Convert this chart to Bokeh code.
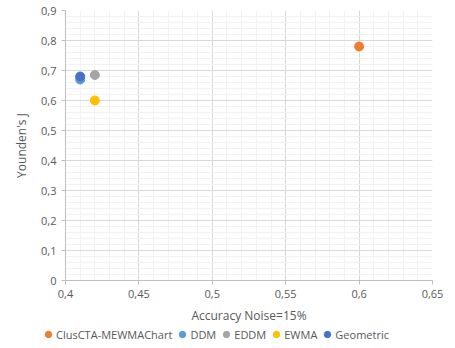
from bokeh.plotting import figure
from bokeh.layouts import column
from bokeh.models import FixedTicker, Legend, LegendItem, ColumnDataSource
from bokeh.embed import file_html
from bokeh.resources import INLINE

names = ["ClusCTA-MEWMAChart", "DDM", "EDDM", "EWMA", "Geometric"]
accuracy = [0.60, 0.41, 0.42, 0.42, 0.41]
youden = [0.78, 0.67, 0.685, 0.60, 0.68]
colors = ["#ED7D31", "#5B9BD5", "#A5A5A5", "#FFC000", "#4472C4"]

x_ticks = [0.4, 0.45, 0.5, 0.55, 0.6, 0.65]
y_ticks = [0, 0.1, 0.2, 0.3, 0.4, 0.5, 0.6, 0.7, 0.8, 0.9]
x_minor = [round(0.4 + 0.01 * i, 2) for i in range(26)]
y_minor = [round(0.02 * i, 2) for i in range(46)]

def fmt(v):
    s = ("%g" % v)
    return s.replace(".", ",")

p = figure(width=455, height=326, output_backend="svg", toolbar_location=None,
           x_range=(0.4, 0.65), y_range=(0, 0.9),
           min_border_left=65, min_border_right=23, min_border_top=10, min_border_bottom=45)
p.outline_line_color = None
p.background_fill_color = "white"

font = "Open Sans"
for ax in (p.xaxis[0], p.yaxis[0]):
    ax.axis_line_color = "#BFBFBF"
    ax.major_tick_line_color = "#BFBFBF"
    ax.minor_tick_line_color = None
    ax.major_tick_out = 4
    ax.major_tick_in = 0
    ax.major_label_text_font = font
    ax.major_label_text_font_size = "11px"
    ax.major_label_text_color = "#595959"
    ax.axis_label_text_font = font
    ax.axis_label_text_font_size = "12px"
    ax.axis_label_text_color = "#595959"
    ax.axis_label_text_font_style = "normal"

p.xaxis.ticker = FixedTicker(ticks=x_ticks, minor_ticks=x_minor)
p.yaxis.ticker = FixedTicker(ticks=y_ticks, minor_ticks=y_minor)
p.xaxis.major_label_overrides = {t: fmt(t) for t in x_ticks}
p.yaxis.major_label_overrides = {t: fmt(t) for t in y_ticks}
p.xaxis.axis_label = "Accuracy Noise=15%"
p.yaxis.axis_label = "Younden's J"
p.xaxis.axis_label_standoff = 6
p.yaxis.axis_label_standoff = 8

p.xgrid.grid_line_color = "#D9D9D9"
p.ygrid.grid_line_color = "#D9D9D9"
p.xgrid.minor_grid_line_color = "#F2F2F2"
p.ygrid.minor_grid_line_color = "#F2F2F2"

for n, xv, yv, c in zip(names, accuracy, youden, colors):
    src = ColumnDataSource(dict(x=[xv], y=[yv]))
    p.scatter("x", "y", source=src, size=9, fill_color=c, line_color=c)

# legend strip below the chart (its renderers sit outside the visible range)
lf = figure(frame_width=455, frame_height=22, output_backend="svg", toolbar_location=None,
            x_range=(0, 1), y_range=(0, 1),
            min_border_left=0, min_border_right=0, min_border_top=0, min_border_bottom=0,
            x_axis_location=None, y_axis_location=None)
lf.grid.visible = False
lf.outline_line_color = None
items = []
for n, c in zip(names, colors):
    r = lf.scatter(x=[-10], y=[-10], size=9, fill_color=c, line_color=c)
    items.append(LegendItem(label=n, renderers=[r]))
legend = Legend(items=items, orientation="horizontal", location=(40, 6),
                label_text_font=font, label_text_font_size="11px",
                label_text_color="#595959", glyph_width=16, glyph_height=16,
                label_standoff=0, spacing=2, padding=0, margin=0,
                label_height=12,
                border_line_color=None, background_fill_alpha=0)
lf.add_layout(legend, "center")

layout = column(p, lf, spacing=0)
open("out.html", "w").write(file_html(layout, INLINE))
